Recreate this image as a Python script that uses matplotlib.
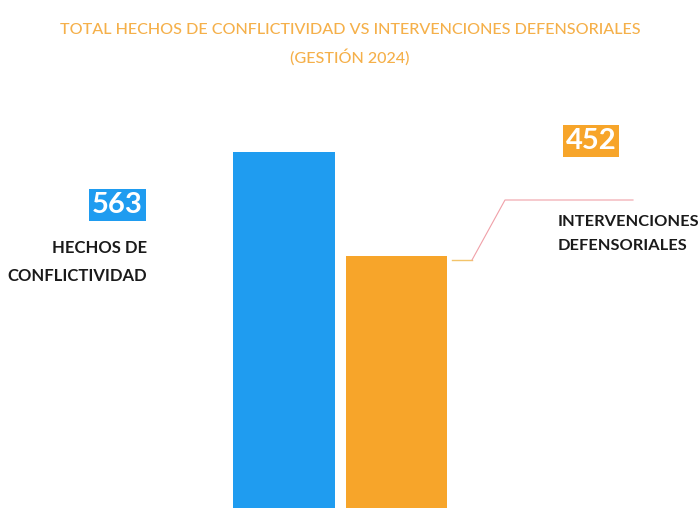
import matplotlib
matplotlib.use('Agg')
import matplotlib.pyplot as plt

# data
categories = ['HECHOS DE\nCONFLICTIVIDAD', 'INTERVENCIONES\nDEFENSORIALES']
values = [563, 452]
colors = ['#1f9cf0', '#f7a52a']
title = 'TOTAL HECHOS DE CONFLICTIVIDAD VS INTERVENCIONES DEFENSORIALES\n(GESTIÓN 2024)'

plt.rcParams['font.family'] = ['Lato', 'DejaVu Sans']

fig = plt.figure(figsize=(7, 5.08), dpi=100)
fig.patch.set_facecolor('white')

# bars run off the bottom of the picture, so the axes extend below it
ax = fig.add_axes([0, -0.339, 1, 1.039])
ax.bar([0, 1], values, width=0.9, color=colors)
ax.set_xlim(-2.524, 3.698)
ax.set_ylim(0, values[0])
ax.axis('off')

fig.text(0.5, 1 - 44/508, title, ha='center', va='center', color='#f5b04a',
         fontsize=11.6, fontweight='medium', linespacing=1.85)

# left label (blue bar)
fig.text(143/700, 1 - 205/508, str(values[0]), ha='right', va='center',
         color='white', fontsize=21, fontweight='bold',
         bbox=dict(boxstyle='square,pad=0.1', fc=colors[0], ec='none'))
fig.text(147/700, 1 - 262/508, categories[0], ha='right', va='center',
         color='#1a1a1a', fontsize=12, fontweight='bold', linespacing=1.95)

# right label (orange bar)
fig.text(591/700, 1 - 141/508, str(values[1]), ha='center', va='center',
         color='white', fontsize=21, fontweight='bold',
         bbox=dict(boxstyle='square,pad=0.1', fc=colors[1], ec='none'))
fig.text(558/700, 1 - 234/508, categories[1], ha='left', va='center',
         color='#1a1a1a', fontsize=11.8, fontweight='bold', linespacing=1.95)

# leader line from the orange bar to its label
fig.add_artist(plt.Line2D([452/700, 472/700], [1 - 260/508, 1 - 260/508],
                          color='#f3c46a', lw=1))
fig.add_artist(plt.Line2D([472/700, 505/700, 633/700],
                          [1 - 260/508, 1 - 200/508, 1 - 200/508],
                          color='#f0a0a8', lw=0.8))

fig.savefig('out.png', dpi=100)
